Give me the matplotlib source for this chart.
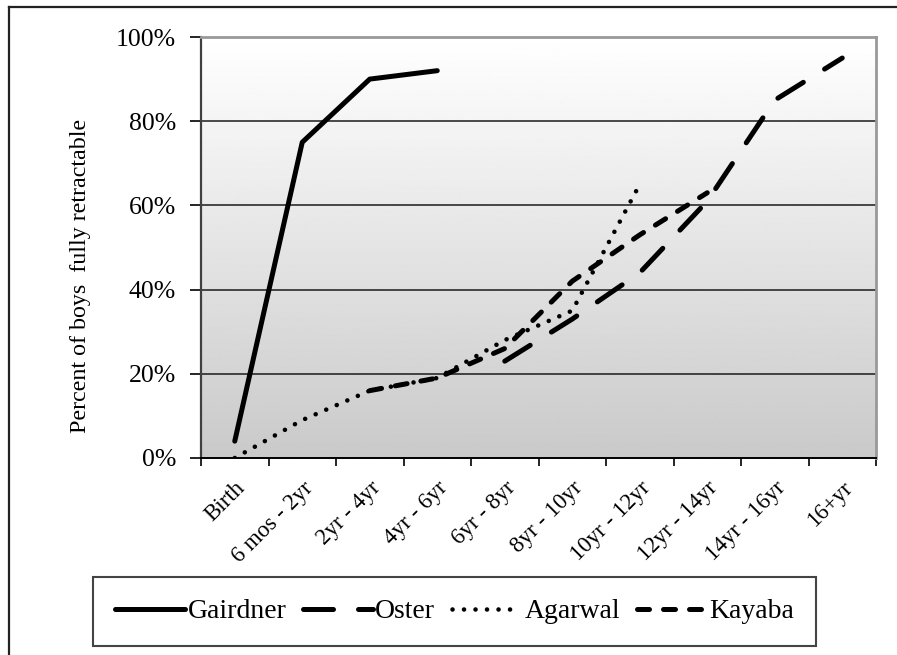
import numpy as np
import matplotlib
matplotlib.use('Agg')
import matplotlib.pyplot as plt
from matplotlib.lines import Line2D

# data (percent of boys fully retractable)
ages = ['Birth', '6 mos - 2yr', '2yr - 4yr', '4yr - 6yr', '6yr - 8yr',
        '8yr - 10yr', '10yr - 12yr', '12yr - 14yr', '14yr - 16yr', '16+yr']
nan = np.nan
gairdner = [4, 75, 90, 92, nan, nan, nan, nan, nan, nan]
oster = [nan, nan, nan, nan, 23, 33, 44, 61, 85, 95]
agarwal = [0, 9, 16, 19, 28, 35, 65, nan, nan, nan]
kayaba = [nan, nan, 16, 19, 26, 42, 53, 63, nan, nan]
yticks = [0, 20, 40, 60, 80, 100]

plt.rcParams['font.family'] = ['Liberation Serif', 'DejaVu Serif']

W, H = 897, 655
fig = plt.figure(figsize=(W / 100, H / 100), dpi=100)
ax = fig.add_axes([201 / W, 1 - 458 / H, 675 / W, 421 / H])

x = np.arange(len(ages))

# gradient background of the plot area
grad = np.linspace(1.0, 0.79, 256).reshape(-1, 1)
ax.imshow(grad, cmap='gray', vmin=0, vmax=1, aspect='auto',
          extent=[-0.5, len(ages) - 0.5, 0, 100], origin='upper', zorder=0)

for yv in yticks[1:-1]:
    ax.axhline(yv, color='#1a1a1a', lw=1.1, zorder=1)

lw = 3.6
ax.plot(x, gairdner, color='black', lw=lw, solid_capstyle='round',
        solid_joinstyle='round', label='Gairdner', zorder=3)
ax.plot(x, oster, color='black', lw=lw, dashes=(6, 5), dash_capstyle='round',
        label='Oster', zorder=3)
ax.plot(x, agarwal, color='black', lw=3.3, dashes=(0.01, 2.5),
        dash_capstyle='round', label='Agarwal', zorder=3)
ax.plot(x, kayaba, color='black', lw=lw, dashes=(2.4, 2.8),
        dash_capstyle='round', label='Kayaba', zorder=3)

ax.set_xlim(-0.5, len(ages) - 0.5)
ax.set_ylim(0, 100)

ax.set_yticks(yticks)
ax.set_yticklabels(['%d%%' % v for v in yticks], fontsize=18.5)
ax.tick_params(axis='y', length=8, width=1.2, pad=10, direction='out')

ax.set_xticks(np.arange(-0.5, len(ages)), labels=[])
ax.tick_params(axis='x', which='major', length=6, width=1.2, direction='out')
ax.set_xticks(x, minor=True)
ax.set_xticklabels(ages, minor=True, rotation=45, ha='right', va='top',
                   rotation_mode='anchor', fontsize=16.5)
ax.tick_params(axis='x', which='minor', length=0, pad=14)

ax.set_ylabel('Percent of boys  fully retractable', fontsize=17.3)
ax.yaxis.set_label_coords(-0.163, 0.432)

ax.spines['left'].set_color('#404040')
ax.spines['left'].set_linewidth(1.6)
ax.spines['bottom'].set_color('black')
ax.spines['bottom'].set_linewidth(1.4)
for s in ['top', 'right']:
    ax.spines[s].set_color('#999999')
    ax.spines[s].set_linewidth(2)

leg = fig.legend(loc='center', bbox_to_anchor=(454.5 / W, 1 - 611.5 / H),
                 ncol=4, fontsize=20, handlelength=2.5, handletextpad=0.1,
                 columnspacing=0.6, borderpad=0.8, fancybox=False,
                 framealpha=1, edgecolor='#444444')
leg.get_frame().set_linewidth(1.5)

# outer border (left and top edges visible)
fig.add_artist(Line2D([9 / W, 9 / W], [0, 1 - 7 / H], color='#222222', lw=1.6))
fig.add_artist(Line2D([9 / W, 1], [1 - 7 / H, 1 - 7 / H], color='#222222', lw=1.6))

fig.savefig('out.png', dpi=100)
